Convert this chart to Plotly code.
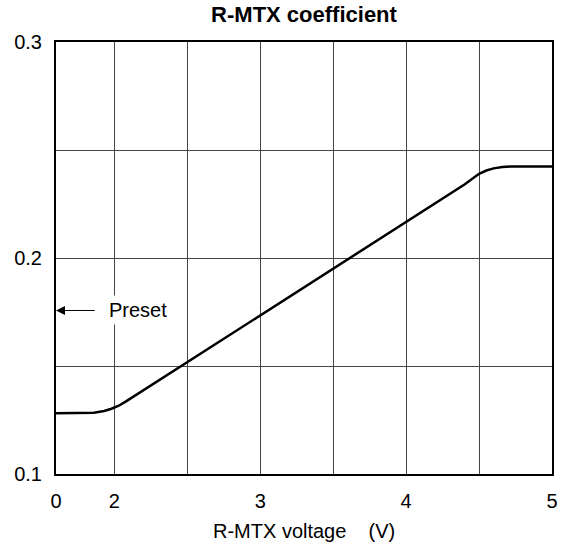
import plotly.graph_objects as go

# Axis positions (left edge position 1.6 is labelled "0" -- broken axis)
x_pos = [1.6, 1.78, 1.86, 1.93, 1.98, 2.03, 2.08, 4.40, 4.46, 4.50, 4.55, 4.60, 4.66, 4.72, 5.0]
coef = [0.1281, 0.1281, 0.1284, 0.1292, 0.1302, 0.1316, 0.1336, 0.2340, 0.2370, 0.2390, 0.2405, 0.2415, 0.2421, 0.2424, 0.2424]

x_tickvals = [1.6, 2, 2.5, 3, 3.5, 4, 4.5, 5]
x_ticktext = ["0", "2", "", "3", "", "4", "", "5"]
y_tickvals = [0.1, 0.15, 0.2, 0.25, 0.3]
y_ticktext = ["0.1", "", "0.2", "", "0.3"]

preset_value = 0.1757
preset_arrow_tail = 1.876
preset_label_x = 2.163

FONT = "Liberation Sans, Arial, sans-serif"

fig = go.Figure()
fig.add_trace(go.Scatter(x=x_pos, y=coef, mode="lines",
                         line=dict(color="black", width=2.5), showlegend=False,
                         hoverinfo="skip"))

fig.add_annotation(x=1.6, y=preset_value, ax=preset_arrow_tail, ay=preset_value,
                   xref="x", yref="y", axref="x", ayref="y",
                   showarrow=True, arrowhead=2, arrowsize=1.8, arrowwidth=1,
                   arrowcolor="black", text="", standoff=0)
fig.add_annotation(x=preset_label_x, y=preset_value, xref="x", yref="y",
                   text="Preset", showarrow=False, bgcolor="white", borderpad=3,
                   font=dict(size=20, color="black", family=FONT))

fig.add_annotation(x=0.5, y=-0.132, xref="paper", yref="paper",
                   text="R-MTX voltage\u00a0\u00a0\u00a0\u00a0(V)", showarrow=False,
                   yanchor="middle", font=dict(size=20, color="black", family=FONT))

fig.update_layout(
    width=570, height=545,
    margin=dict(l=56, r=13, t=42, b=71),
    paper_bgcolor="white", plot_bgcolor="white",
    font=dict(family=FONT, size=20, color="black"),
    title=dict(text="<b>R-MTX coefficient</b>", x=0.5, xref="paper",
               y=1 - 14 / 545, yref="container", yanchor="middle",
               font=dict(size=22, family=FONT, color="black")),
)
fig.update_xaxes(range=[1.6, 5], tickmode="array", tickvals=x_tickvals, ticktext=x_ticktext,
                 showgrid=True, gridcolor="#444", gridwidth=1, zeroline=False,
                 showline=True, linecolor="black", linewidth=2, mirror=True,
                 ticks="", ticklabelstandoff=8, fixedrange=True)
fig.update_yaxes(range=[0.1, 0.3], tickmode="array", tickvals=y_tickvals, ticktext=y_ticktext,
                 showgrid=True, gridcolor="#444", gridwidth=1, zeroline=False,
                 showline=True, linecolor="black", linewidth=2, mirror=True,
                 ticks="", ticklabelstandoff=8, fixedrange=True)

fig.write_html("out.html", config={"displayModeBar": False},
               post_script="document.body.style.margin='0px';document.body.style.overflow='hidden';")
